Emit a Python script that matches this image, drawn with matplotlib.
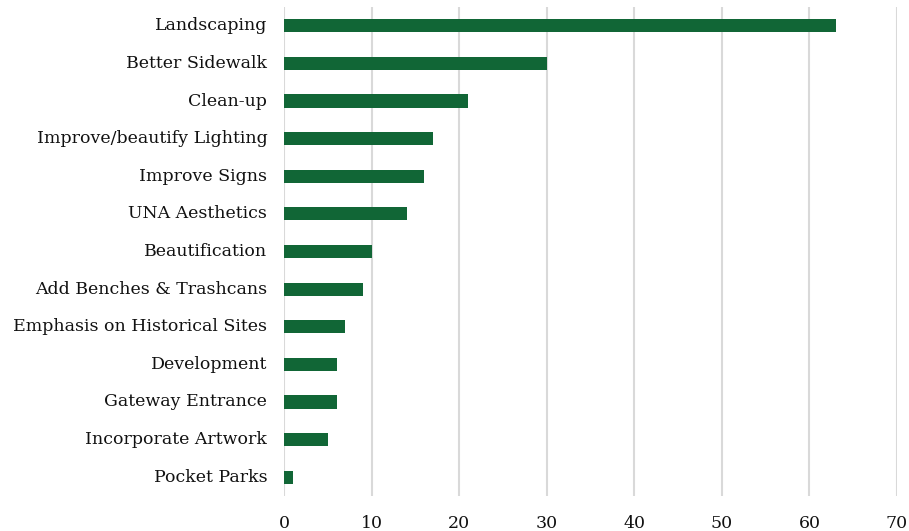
import matplotlib
matplotlib.use("Agg")
import matplotlib.pyplot as plt


categories = ['Landscaping', 'Better Sidewalk', 'Clean-up', 'Improve/beautify Lighting',
              'Improve Signs', 'UNA Aesthetics', 'Beautification', 'Add Benches & Trashcans',
              'Emphasis on Historical Sites', 'Development', 'Gateway Entrance',
              'Incorporate Artwork', 'Pocket Parks']
counts = [63, 30, 21, 17, 16, 14, 10, 9, 7, 6, 6, 5, 1]
xticks = [0, 10, 20, 30, 40, 50, 60, 70]

plt.rcParams['font.family'] = ['DejaVu Serif']

fig = plt.figure(figsize=(9.09, 5.31), dpi=100)
ax = fig.add_axes([0.3124, 0.066, 0.6744, 0.9208])

pos = list(range(len(categories)))
ax.barh(pos, counts, height=0.35, color='#116636', zorder=3)

ax.set_ylim(len(categories) - 0.5, -0.5)
ax.set_xlim(0, 70)
ax.set_yticks(pos)
ax.set_yticklabels(categories, fontsize=12.5, color='#111111', va='center')
ax.set_xticks(xticks)
ax.set_xticklabels([str(t) for t in xticks], fontsize=12.5, color='#111111')

ax.grid(axis='x', color='#d9d9d9', linewidth=1.5, zorder=0)
for s in ax.spines.values():
    s.set_visible(False)
ax.tick_params(axis='both', length=0)
ax.tick_params(axis='y', pad=12)
ax.tick_params(axis='x', pad=14)

fig.savefig('out.png', dpi=100)
